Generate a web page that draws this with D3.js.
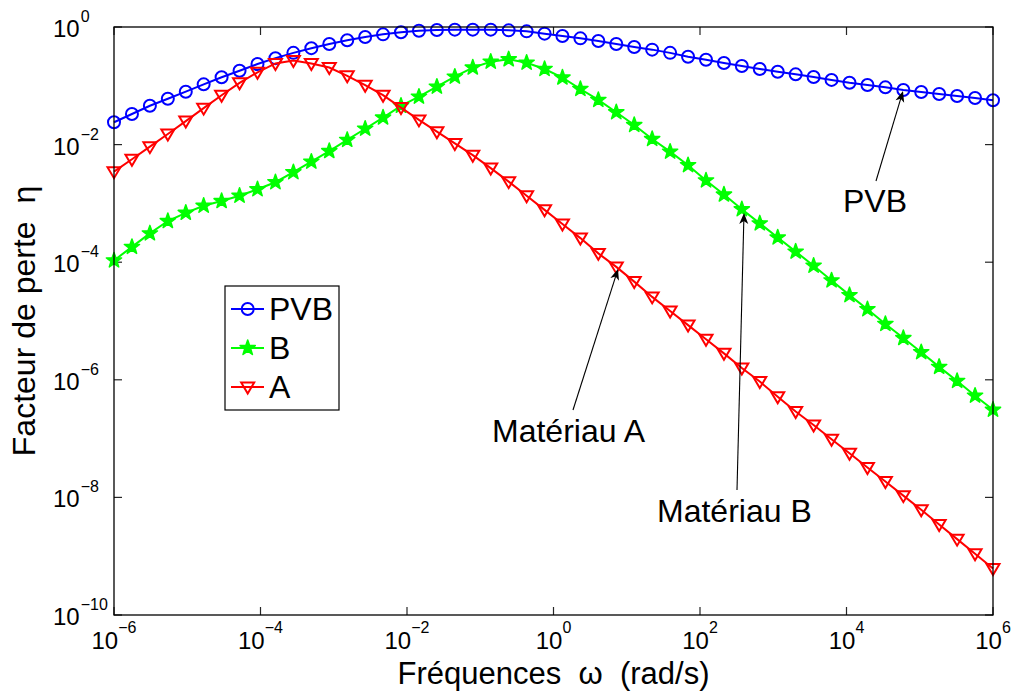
<!DOCTYPE html>
<html><head><meta charset="utf-8">
<script src="https://cdn.jsdelivr.net/npm/d3@7"></script>
<style>
html,body{margin:0;padding:0;background:#fff;}
svg text{font-family:"Liberation Sans",Arial,sans-serif;white-space:pre;}
</style></head>
<body><svg id="chart" width="1018" height="692"></svg>
<script>
// log10 of angular frequency (rad/s) at each sample
const logOmega = [-6.000,-5.755,-5.510,-5.265,-5.020,-4.776,-4.531,-4.286,-4.041,-3.796,
 -3.551,-3.306,-3.061,-2.816,-2.571,-2.327,-2.082,-1.837,-1.592,-1.347,
 -1.102,-0.857,-0.612,-0.367,-0.122,0.122,0.367,0.612,0.857,1.102,
 1.347,1.592,1.837,2.082,2.327,2.571,2.816,3.061,3.306,3.551,
 3.796,4.041,4.286,4.531,4.776,5.020,5.265,5.510,5.755,6.000];
// log10 of loss factor eta
const logPVB = [-1.62,-1.48,-1.34,-1.22,-1.10,-0.975,-0.855,-0.743,-0.63,-0.53,
 -0.44,-0.36,-0.29,-0.225,-0.17,-0.125,-0.09,-0.065,-0.05,-0.045,
 -0.045,-0.045,-0.057,-0.074,-0.113,-0.153,-0.193,-0.238,-0.29,-0.34,
 -0.385,-0.44,-0.505,-0.558,-0.612,-0.663,-0.714,-0.76,-0.805,-0.85,
 -0.90,-0.947,-0.986,-1.026,-1.071,-1.105,-1.14,-1.173,-1.207,-1.247];
const logB = [-3.97,-3.74,-3.51,-3.30,-3.16,-3.04,-2.96,-2.87,-2.76,-2.64,
 -2.47,-2.29,-2.11,-1.92,-1.73,-1.54,-1.34,-1.185,-1.015,-0.845,
 -0.69,-0.59,-0.55,-0.607,-0.714,-0.86,-1.054,-1.24,-1.45,-1.667,
 -1.905,-2.12,-2.35,-2.61,-2.85,-3.10,-3.34,-3.58,-3.82,-4.06,
 -4.31,-4.56,-4.80,-5.05,-5.29,-5.53,-5.78,-6.02,-6.27,-6.51];
const logA = [-2.46,-2.25,-2.035,-1.82,-1.60,-1.38,-1.16,-0.95,-0.77,-0.62,
 -0.57,-0.62,-0.69,-0.83,-0.99,-1.16,-1.37,-1.58,-1.78,-1.98,
 -2.18,-2.40,-2.63,-2.87,-3.11,-3.35,-3.59,-3.85,-4.08,-4.33,
 -4.59,-4.83,-5.07,-5.31,-5.55,-5.80,-6.03,-6.29,-6.54,-6.77,
 -7.01,-7.25,-7.49,-7.73,-7.97,-8.21,-8.46,-8.71,-8.96,-9.21];
const xTickExp = [-6,-4,-2,0,2,4,6];
const yTickExp = [0,-2,-4,-6,-8,-10];
const seriesNames = ["PVB","B","A"];
const seriesColors = ["#0000ff","#00ff00","#ff0000"];
const xLabel = ["Fréquences  ", "ω", "  (rad/s)"];
const yLabel = "Facteur de perte  η";
const annotations = [
  {text:"PVB", tx:843, ty:212, from:[876,181], to:[903,91]},
  {text:"Matériau A", tx:492, ty:442, from:[573,410], to:[618,269]},
  {text:"Matériau B", tx:657, ty:522, from:[737,490], to:[744,213]}
];

const svg = d3.select("#chart");
const L=114, R=993, T=27, B=615;
const x = d3.scaleLog().domain([1e-6,1e6]).range([L,R]);
const y = d3.scaleLog().domain([1e-10,1]).range([B,T]);
const P = v => Math.pow(10,v);

svg.append("rect").attr("x",L).attr("y",T).attr("width",R-L).attr("height",B-T).attr("fill","#fff");

// ticks on all four sides
const tickLen = 8;
const axG = svg.append("g").attr("stroke","#262626").attr("stroke-width",1.2);
xTickExp.forEach(e=>{
  const px = x(P(e));
  axG.append("line").attr("x1",px).attr("x2",px).attr("y1",B).attr("y2",B-tickLen);
  axG.append("line").attr("x1",px).attr("x2",px).attr("y1",T).attr("y2",T+tickLen);
});
yTickExp.forEach(e=>{
  const py = y(P(e));
  axG.append("line").attr("x1",L).attr("x2",L+tickLen).attr("y1",py).attr("y2",py);
  axG.append("line").attr("x1",R).attr("x2",R-tickLen).attr("y1",py).attr("y2",py);
});

const fmtExp = e => (e<0 ? "\u2212"+Math.abs(e) : String(e));
xTickExp.forEach(e=>{
  const t = svg.append("text").attr("x",x(P(e))).attr("y",649).attr("text-anchor","middle")
    .attr("font-size",24).attr("fill","#000");
  t.append("tspan").text("10");
  t.append("tspan").attr("dy",-16).attr("font-size",16).text(fmtExp(e));
});
yTickExp.forEach(e=>{
  const t = svg.append("text").attr("x",53).attr("y",y(P(e))+10).attr("text-anchor","start")
    .attr("font-size",24).attr("fill","#000");
  t.append("tspan").text("10");
  t.append("tspan").attr("dx",1).attr("dy",-15).attr("font-size",16).text(fmtExp(e));
});

const xl = svg.append("text").attr("x",(L+R)/2).attr("y",684).attr("text-anchor","middle")
  .attr("font-size",31).attr("fill","#000");
xl.append("tspan").text(xLabel[0]);
xl.append("tspan").text(xLabel[1]);
xl.append("tspan").text(xLabel[2]);
svg.append("text").attr("transform","translate(35,"+((T+B)/2)+") rotate(-90)")
  .attr("text-anchor","middle").attr("font-size",32).attr("fill","#000").text(yLabel);

svg.append("clipPath").attr("id","clip").append("rect").attr("x",L-10).attr("y",T-10).attr("width",R-L+20).attr("height",B-T+20);

const seriesData = [logPVB, logB, logA];
const line = d3.line().x(d=>x(P(d[0]))).y(d=>y(P(d[1])));

function starPath(R0){
  const r0 = R0*0.40; let p="";
  for(let k=0;k<10;k++){
    const rr = k%2===0?R0:r0; const a = -Math.PI/2 + k*Math.PI/5;
    p += (k===0?"M":"L") + (rr*Math.cos(a)).toFixed(2)+","+(rr*Math.sin(a)).toFixed(2);
  }
  return p+"Z";
}
function drawMarker(g, kind, cx, cy, color){
  if(kind===0){
    g.append("circle").attr("cx",cx).attr("cy",cy).attr("r",6)
      .attr("fill","none").attr("stroke",color).attr("stroke-width",2);
  } else if(kind===1){
    g.append("path").attr("d",starPath(8)).attr("transform",`translate(${cx},${cy})`)
      .attr("fill",color).attr("stroke",color).attr("stroke-width",1.5).attr("stroke-linejoin","round");
  } else {
    g.append("path").attr("d","M-6.5,-4.5L6.5,-4.5L0,6.5Z").attr("transform",`translate(${cx},${cy})`)
      .attr("fill","none").attr("stroke",color).attr("stroke-width",2).attr("stroke-linejoin","miter");
  }
}

const plotG = svg.append("g").attr("clip-path","url(#clip)");
seriesData.forEach((vals,k)=>{
  const pts = logOmega.map((w,i)=>[w,vals[i]]);
  plotG.append("path").attr("d",line(pts)).attr("fill","none")
    .attr("stroke",seriesColors[k]).attr("stroke-width",2);
  const mg = plotG.append("g");
  pts.forEach(d=>drawMarker(mg,k,x(P(d[0])),y(P(d[1])),seriesColors[k]));
});

svg.append("rect").attr("x",L).attr("y",T).attr("width",R-L).attr("height",B-T)
  .attr("fill","none").attr("stroke","#000").attr("stroke-width",1.3);

function arrow(from,to){
  const g = svg.append("g");
  const dx=to[0]-from[0], dy=to[1]-from[1], len=Math.hypot(dx,dy);
  const ux=dx/len, uy=dy/len, nx=-uy, ny=ux;
  const hl=11, hw=4.5, notch=3;
  const bx=to[0]-ux*hl, by=to[1]-uy*hl;
  g.append("line").attr("x1",from[0]).attr("y1",from[1]).attr("x2",to[0]-ux*4).attr("y2",to[1]-uy*4)
    .attr("stroke","#000").attr("stroke-width",1.1);
  const pts=[[to[0],to[1]],[bx+nx*hw,by+ny*hw],[to[0]-ux*(hl-notch),to[1]-uy*(hl-notch)],[bx-nx*hw,by-ny*hw]];
  g.append("path").attr("d","M"+pts.map(p=>p[0].toFixed(2)+","+p[1].toFixed(2)).join("L")+"Z").attr("fill","#000");
}
annotations.forEach(a=>{
  arrow(a.from,a.to);
  svg.append("text").attr("x",a.tx).attr("y",a.ty).attr("font-size",32).attr("fill","#000").text(a.text);
});

const lg = svg.append("g");
lg.append("rect").attr("x",225).attr("y",286).attr("width",114).attr("height",124)
  .attr("fill","#fff").attr("stroke","#000").attr("stroke-width",1.2);
seriesNames.forEach((n,k)=>{
  const cy = 309 + k*39;
  lg.append("line").attr("x1",231).attr("x2",264).attr("y1",cy).attr("y2",cy)
    .attr("stroke",seriesColors[k]).attr("stroke-width",2);
  drawMarker(lg,k,247.7,cy,seriesColors[k]);
  lg.append("text").attr("x",269).attr("y",cy+11).attr("font-size",32).attr("fill","#000").text(n);
});
</script></body></html>
